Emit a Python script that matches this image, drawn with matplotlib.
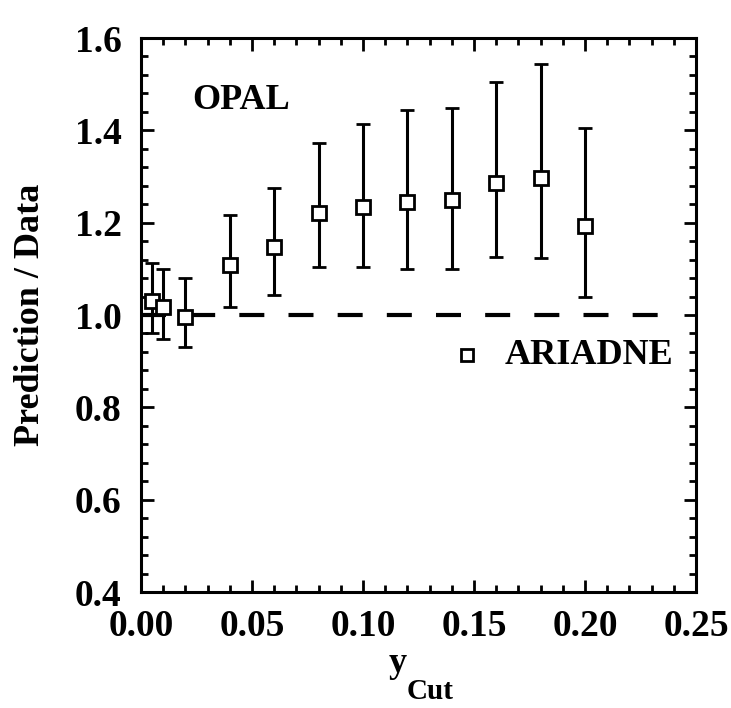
import numpy as np
import matplotlib
matplotlib.use('Agg')
import matplotlib.pyplot as plt
from matplotlib.ticker import MultipleLocator

####################################################################################

FONT = 'Liberation Serif'

y_cut      = [0.005, 0.01, 0.02, 0.04, 0.06, 0.08, 0.10, 0.12, 0.14, 0.16, 0.18, 0.20]
ratio      = [1.030, 1.017, 0.996, 1.108, 1.147, 1.221, 1.234, 1.245, 1.249, 1.286, 1.297, 1.193]
ratio_high = [1.113, 1.100, 1.080, 1.217, 1.275, 1.372, 1.414, 1.444, 1.448, 1.505, 1.544, 1.405]
ratio_low  = [0.961, 0.948, 0.931, 1.017, 1.043, 1.104, 1.104, 1.100, 1.100, 1.126, 1.123, 1.039]

reference_x = [0.0, 0.236]
reference_y = [1.0, 1.0]

####################################################################################

def set_axis_properties(axes):
    axes.set_xlim(0.0, 0.25)
    axes.set_ylim(0.4, 1.6)
    axes.xaxis.set_major_locator(MultipleLocator(0.05))
    axes.xaxis.set_minor_locator(MultipleLocator(0.01))
    axes.yaxis.set_major_locator(MultipleLocator(0.2))
    axes.yaxis.set_minor_locator(MultipleLocator(0.04))
    axes.tick_params(which='both', direction='in', top=True, right=True, width=2)
    axes.tick_params(which='major', length=9)
    axes.tick_params(which='minor', length=5)
    axes.tick_params(axis='x', which='major', pad=12)
    axes.tick_params(axis='y', which='major', pad=14)
    for spine in axes.spines.values():
        spine.set_linewidth(2.2)
    axes.set_xticklabels(['%.2f' % v for v in axes.get_xticks()],
                         fontsize=27, fontweight='bold', family=FONT)
    axes.set_yticklabels(['%.1f' % v for v in axes.get_yticks()],
                         fontsize=27, fontweight='bold', family=FONT)


figure = plt.figure(figsize=(7.31, 7.08), dpi=100)
axes = figure.add_axes([0.1929, 0.1638, 0.7592, 0.7825])
set_axis_properties(axes)

y = np.array(ratio)
yerr = [y - np.array(ratio_low), np.array(ratio_high) - y]

axes.plot(reference_x, reference_y, color='black', linewidth=3,
          dashes=(6.0, 5.8), zorder=1)
axes.errorbar(y_cut, ratio, yerr=yerr, fmt='s', color='black',
              markerfacecolor='white', markeredgecolor='black',
              markersize=10, markeredgewidth=2, elinewidth=2.2,
              capsize=5, capthick=2.2, zorder=3)

axes.text(0.023, 1.465, 'OPAL', fontsize=26, fontweight='bold', family=FONT,
          va='center', ha='left')
axes.plot([0.147], [0.913], 's', color='black', markerfacecolor='white',
          markersize=8, markeredgewidth=2)
axes.text(0.164, 0.913, 'ARIADNE', fontsize=26, fontweight='bold', family=FONT,
          va='center', ha='left')

axes.set_ylabel('Prediction / Data', fontsize=26, fontweight='bold',
                family=FONT, labelpad=20)
figure.text(0.544, 0.063, 'y', fontsize=26, fontweight='bold', family=FONT,
            ha='center', va='center')
figure.text(0.588, 0.024, 'Cut', fontsize=21, fontweight='bold', family=FONT,
            ha='center', va='center')

plt.savefig('out.png', dpi=100)
